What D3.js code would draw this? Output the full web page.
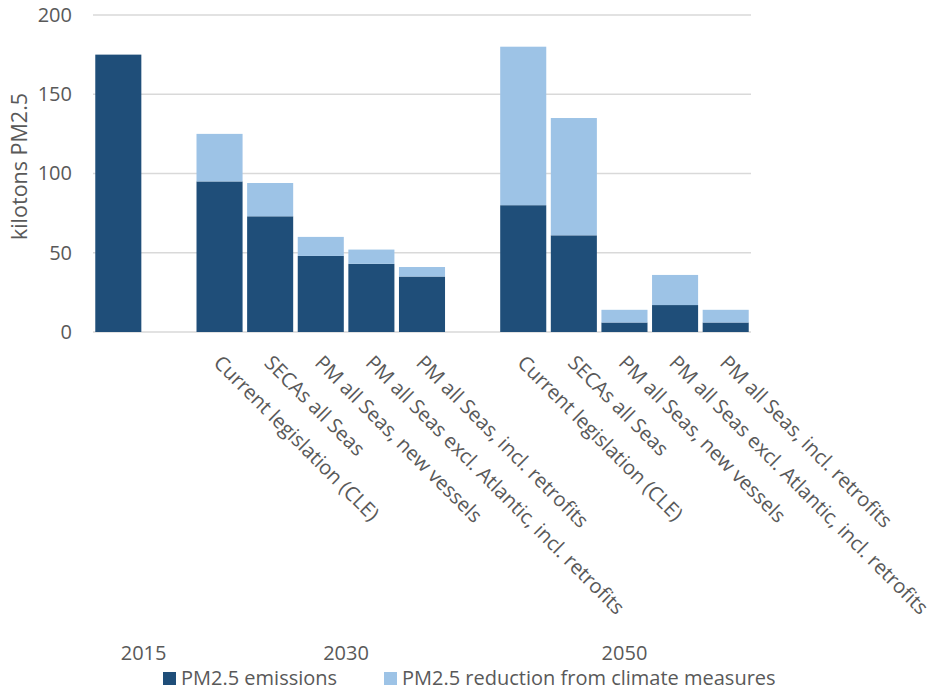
<!DOCTYPE html>
<html>
<head>
<meta charset="utf-8">
<script src="https://cdn.jsdelivr.net/npm/d3@7"></script>
<style>
  html, body { margin: 0; padding: 0; background: #ffffff; }
  svg { display: block; }
  text { font-family: "Open Sans", sans-serif; fill: #595959; }
</style>
</head>
<body>
<svg id="chart" width="935" height="693"></svg>
<script>
// Category slots along the x axis (blank slots separate the year groups)
const slotLabels = [
  "", "",
  "Current legislation (CLE)", "SECAs all Seas", "PM all Seas, new vessels",
  "PM all Seas excl. Atlantic, incl. retrofits", "PM all Seas, incl. retrofits", "",
  "Current legislation (CLE)", "SECAs all Seas", "PM all Seas, new vessels",
  "PM all Seas excl. Atlantic, incl. retrofits", "PM all Seas, incl. retrofits"
];
const slotYears = [
  "2015", "2015",
  "2030", "2030", "2030", "2030", "2030", "2030",
  "2050", "2050", "2050", "2050", "2050"
];
const years = ["2015", "2030", "2050"];

// kilotons PM2.5
const emissions = [175, null, 95, 73, 48, 43, 35, null, 80, 61, 6, 17, 6];
const reduction = [0, null, 30, 21, 12, 9, 6, null, 100, 74, 8, 19, 8];

const seriesNames = ["PM2.5 emissions", "PM2.5 reduction from climate measures"];
const seriesColors = ["#1f4e79", "#9dc3e6"];

const yTicks = [0, 50, 100, 150, 200];

const svg = d3.select("#chart");

const x = d3.scaleBand()
  .domain(d3.range(slotLabels.length))
  .range([93, 751])
  .paddingInner(0.09)
  .paddingOuter(0.045);

const y = d3.scaleLinear().domain([0, 200]).range([332, 15]);

// gridlines
svg.append("g")
  .selectAll("line")
  .data(yTicks)
  .join("line")
  .attr("x1", x.range()[0])
  .attr("x2", x.range()[1])
  .attr("y1", d => y(d))
  .attr("y2", d => y(d))
  .attr("stroke", "#d9d9d9")
  .attr("stroke-width", 1.3);

// y axis tick labels
const yAxis = d3.axisLeft(y).tickValues(yTicks).tickSize(0).tickPadding(0);
const yg = svg.append("g").attr("transform", "translate(72,0)").call(yAxis);
yg.select(".domain").remove();
yg.selectAll("text")
  .attr("font-size", 20)
  .attr("font-family", "Open Sans, sans-serif")
  .attr("fill", "#595959");

// y axis title
svg.append("text")
  .attr("transform", `translate(27,${(y(0) + y(200)) / 2 - 7}) rotate(-90)`)
  .attr("text-anchor", "middle")
  .attr("font-size", 21.5)
  .text("kilotons PM2.5");

// stacked bars
const rows = slotLabels.map((label, i) => ({
  i, label, em: emissions[i], red: reduction[i]
})).filter(d => d.em !== null);

const bars = svg.append("g");
bars.selectAll("rect.em")
  .data(rows)
  .join("rect")
  .attr("class", "em")
  .attr("x", d => x(d.i))
  .attr("width", x.bandwidth())
  .attr("y", d => y(d.em))
  .attr("height", d => y(0) - y(d.em))
  .attr("fill", seriesColors[0]);

bars.selectAll("rect.red")
  .data(rows.filter(d => d.red > 0))
  .join("rect")
  .attr("class", "red")
  .attr("x", d => x(d.i))
  .attr("width", x.bandwidth())
  .attr("y", d => y(d.em + d.red))
  .attr("height", d => y(d.em) - y(d.em + d.red))
  .attr("fill", seriesColors[1]);

// rotated scenario labels
svg.append("g")
  .selectAll("text")
  .data(slotLabels.map((label, i) => ({ label, i })).filter(d => d.label))
  .join("text")
  .attr("transform", d => `translate(${x(d.i) + x.bandwidth() / 2 - 7},364) rotate(45)`)
  .attr("text-anchor", "start")
  .attr("font-size", 20.1)
  .text(d => d.label);

// year group labels, centred under each group's span
const step = x.step();
const inner = x.paddingInner() * step / 2;
svg.append("g")
  .selectAll("text")
  .data(years)
  .join("text")
  .attr("x", yr => {
    const idx = slotYears.map((g, i) => g === yr ? i : -1).filter(i => i >= 0);
    const x0 = x(idx[0]) - inner;
    const x1 = x(idx[idx.length - 1]) + x.bandwidth() + inner;
    return (x0 + x1) / 2;
  })
  .attr("y", 660)
  .attr("text-anchor", "middle")
  .attr("font-size", 20)
  .text(d => d);

// legend
const legendX = [163, 384];
const lg = svg.append("g")
  .selectAll("g")
  .data(seriesNames)
  .join("g")
  .attr("transform", (d, i) => `translate(${legendX[i]},672)`);
lg.append("rect")
  .attr("width", 13)
  .attr("height", 13)
  .attr("fill", (d, i) => seriesColors[i]);
lg.append("text")
  .attr("x", 18)
  .attr("y", 13)
  .attr("font-size", 20)
  .text(d => d);
</script>
</body>
</html>
